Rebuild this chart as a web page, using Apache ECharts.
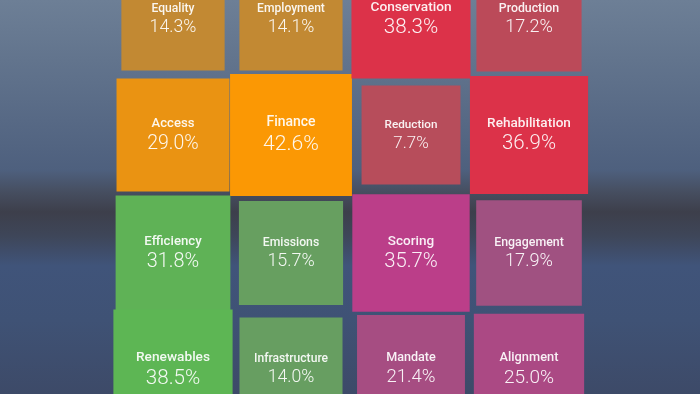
<!DOCTYPE html>
<html>
<head>
<meta charset="utf-8">
<script src="https://cdn.jsdelivr.net/npm/echarts@6/dist/echarts.min.js"></script>
<style>
html,body{margin:0;padding:0;width:700px;height:394px;overflow:hidden;}
body{background:linear-gradient(180deg,#6D7F96 0px,#62748D 60px,#576985 120px,#4E607E 170px,#464E60 192px,#3D3F4B 212px,#3E4659 236px,#40547A 266px,#3F5275 320px,#3D4A68 394px);}
#chart{width:700px;height:394px;}
</style>
</head>
<body>
<div id="chart"></div>
<script>
// ---- data ----
const categories = ['Equality','Employment','Access','Finance',
                    'Conservation','Production','Reduction','Rehabilitation',
                    'Efficiency','Emissions','Renewables','Infrastructure',
                    'Scoring','Engagement','Mandate','Alignment'];
const shares = [14.3, 14.1, 29.0, 42.6,
                38.3, 17.2, 7.7, 36.9,
                31.8, 15.7, 38.5, 14.0,
                35.7, 17.9, 21.4, 25.0];
const groupOf = [0,0,0,0, 1,1,1,1, 2,2,2,2, 3,3,3,3];

// ---- styles ----
const groupHSL = [[36,97,50],[352,71,53],[114,40,52],[324,50,49]];
const PITCH_X = 118, PITCH_Y = 116, GAP = 2, CX = 351, CY = 194, W = 700, H = 394;

const seriesData = categories.map(function (name, i) {
  const g = groupOf[i];
  const slot = groupOf.slice(0, i).filter(function (x) { return x === g; }).length;
  const col = (g % 2) * 2 + (slot % 2);
  const row = Math.floor(g / 2) * 2 + Math.floor(slot / 2);
  return { name: name, value: [col, row, shares[i], g] };
});

const chart = echarts.init(document.getElementById('chart'), null, { renderer: 'canvas' });
chart.setOption({
  backgroundColor: 'transparent',
  animation: false,
  grid: { left: 0, right: 0, top: 0, bottom: 0, containLabel: false },
  xAxis: { type: 'value', show: false, min: 2 - CX / PITCH_X, max: 2 + (W - CX) / PITCH_X },
  yAxis: { type: 'value', show: false, inverse: true, min: 2 - CY / PITCH_Y, max: 2 + (H - CY) / PITCH_Y },
  series: [{
    type: 'custom',
    coordinateSystem: 'cartesian2d',
    data: seriesData,
    renderItem: function (params, api) {
      const col = api.value(0), row = api.value(1), v = api.value(2), g = api.value(3);
      const name = categories[params.dataIndex];
      const c = api.coord([col + 0.5, row + 0.5]);
      const u = api.size([1, 1]);
      const side = Math.abs(u[0]) * (0.795 + 0.00559 * v);
      const cx = c[0] + (col < 2 ? -GAP / 2 : GAP / 2);
      const cy = c[1] + (row < 2 ? -GAP / 2 : GAP / 2);
      const f = Math.max(0.6, Math.min(1, 0.3 + 0.02 * v));
      const b = groupHSL[g];
      const fill = 'hsl(' + b[0] + ',' + (b[1] * f).toFixed(1) + '%,' + (b[2] - (1 - f) * 5).toFixed(1) + '%)';
      const nameSize = 11.2 + v * 0.065;
      const valSize = 16 + v * 0.12;
      return {
        type: 'rect',
        shape: { x: cx - side / 2, y: cy - side / 2, width: side, height: side },
        style: { fill: fill },
        textContent: {
          style: {
            text: '{n|' + name + '}\n{v|' + v.toFixed(1) + '%}',
            align: 'center',
            verticalAlign: 'middle',
            rich: {
              n: { fontFamily: 'Roboto', fontWeight: 500, fontSize: nameSize, lineHeight: nameSize + 5, fill: 'rgba(255,255,255,0.92)', align: 'center' },
              v: { fontFamily: 'Roboto', fontWeight: 300, fontSize: valSize, lineHeight: valSize + 3, fill: 'rgba(255,255,255,0.92)', align: 'center' }
            }
          }
        },
        textConfig: { position: 'inside' }
      };
    }
  }]
});
</script>
</body>
</html>
